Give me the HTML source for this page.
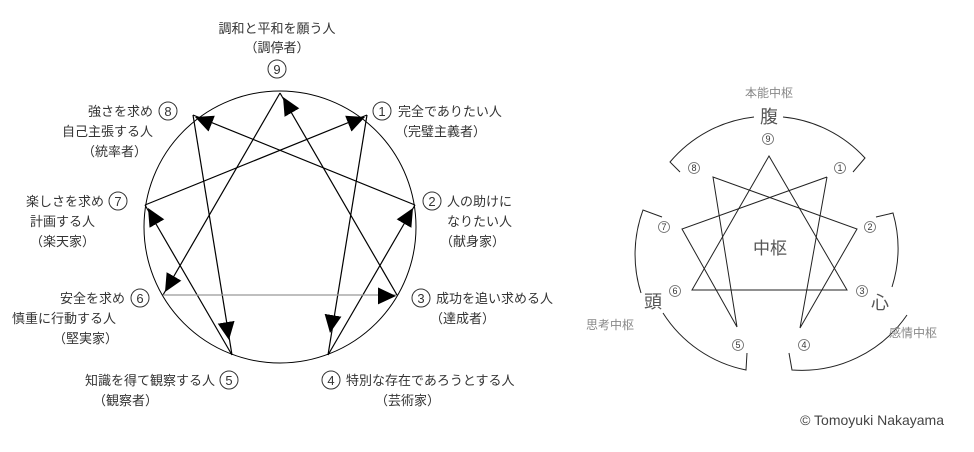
<!DOCTYPE html>
<html><head><meta charset="utf-8"><style>
html,body{margin:0;padding:0;background:#fff;}
svg{display:block;}
text{font-family:"Liberation Sans","Noto Sans CJK JP",sans-serif;fill:#333;}
.t{font-size:13px;}
.n{font-size:13px;}
.s{font-size:9px;fill:#555;}
.g{font-size:12px;fill:#888;}
.b{font-size:18px;fill:#555;}
</style></head><body>
<svg width="974" height="452" viewBox="0 0 974 452" xmlns="http://www.w3.org/2000/svg">
<defs>
<marker id="a" markerUnits="userSpaceOnUse" markerWidth="20" markerHeight="18" refX="18" refY="8.5" orient="auto">
<path d="M0,0 L18,8.5 L0,17 z" fill="#000"/>
</marker>
</defs>
<circle cx="280" cy="227" r="136" fill="none" stroke="#000" stroke-width="1"/>
<g stroke="#000" stroke-width="1.2" fill="none">
<line x1="145" y1="205" x2="367" y2="115"/>
<line x1="145" y1="205" x2="365" y2="117" marker-end="url(#a)" stroke-opacity="0"/>
<line x1="367" y1="115" x2="328" y2="355"/>
<line x1="367" y1="115" x2="330" y2="333" marker-end="url(#a)" stroke-opacity="0"/>
<line x1="328" y1="355" x2="415" y2="205"/>
<line x1="328" y1="355" x2="413" y2="208" marker-end="url(#a)" stroke-opacity="0"/>
<line x1="415" y1="205" x2="193" y2="115"/>
<line x1="415" y1="205" x2="195" y2="117" marker-end="url(#a)" stroke-opacity="0"/>
<line x1="193" y1="115" x2="232" y2="355"/>
<line x1="193" y1="115" x2="229" y2="340" marker-end="url(#a)" stroke-opacity="0"/>
<line x1="232" y1="355" x2="145" y2="205"/>
<line x1="232" y1="355" x2="148" y2="208" marker-end="url(#a)" stroke-opacity="0"/>
<line x1="280" y1="93" x2="163" y2="295"/>
<line x1="280" y1="93" x2="165" y2="292" marker-end="url(#a)" stroke-opacity="0"/>
<line x1="163" y1="295" x2="397" y2="295" stroke="#999"/>
<line x1="163" y1="295" x2="396" y2="296" marker-end="url(#a)" stroke-opacity="0"/>
<line x1="397" y1="295" x2="280" y2="93"/>
<line x1="397" y1="295" x2="283" y2="97" marker-end="url(#a)" stroke-opacity="0"/>
</g>
<g fill="none" stroke="#333" stroke-width="1">
<circle cx="277" cy="69" r="9"/><circle cx="168" cy="111" r="9"/><circle cx="382" cy="111" r="9"/>
<circle cx="118" cy="201" r="9"/><circle cx="432" cy="201" r="9"/><circle cx="140" cy="298" r="9"/>
<circle cx="421" cy="298" r="9"/><circle cx="229" cy="380" r="9"/><circle cx="331" cy="380" r="9"/>
</g>
<g class="n" text-anchor="middle">
<text x="277" y="74">9</text><text x="168" y="116">8</text><text x="382" y="116">1</text>
<text x="118" y="206">7</text><text x="432" y="206">2</text><text x="140" y="303">6</text>
<text x="421" y="303">3</text><text x="229" y="385">5</text><text x="331" y="385">4</text>
</g>
<g class="t">
<text x="277" y="33" text-anchor="middle">調和と平和を願う人</text>
<text x="277" y="52" text-anchor="middle">（調停者）</text>
<text x="153" y="116" text-anchor="end">強さを求め</text>
<text x="153" y="136" text-anchor="end">自己主張する人</text>
<text x="147" y="156" text-anchor="end">（統率者）</text>
<text x="398" y="116">完全でありたい人</text>
<text x="395" y="136">（完璧主義者）</text>
<text x="104" y="206" text-anchor="end">楽しさを求め</text>
<text x="95" y="226" text-anchor="end">計画する人</text>
<text x="95" y="246" text-anchor="end">（楽天家）</text>
<text x="447" y="206">人の助けに</text>
<text x="447" y="226">なりたい人</text>
<text x="440" y="246">（献身家）</text>
<text x="125" y="303" text-anchor="end">安全を求め</text>
<text x="116" y="323" text-anchor="end">慎重に行動する人</text>
<text x="118" y="343" text-anchor="end">（堅実家）</text>
<text x="436" y="303">成功を追い求める人</text>
<text x="430" y="323">（達成者）</text>
<text x="215" y="385" text-anchor="end">知識を得て観察する人</text>
<text x="158" y="405" text-anchor="end">（観察者）</text>
<text x="346" y="385">特別な存在であろうとする人</text>
<text x="375" y="405">（芸術家）</text>
</g>
<g stroke="#222" stroke-width="1" fill="none">
<polygon points="769,156 692,290 847,290"/>
<polyline points="827,177 800,328 857,229 713,177 737,327 682,229 827,177"/>
</g>
<g stroke="#222" stroke-width="1" fill="none">
<path d="M680,172 L670,162 A128,128 0 0 1 754,117"/>
<path d="M783,117 A128,128 0 0 1 865,158 L853,172"/>
<path d="M876,217 L893,213 A128,128 0 0 1 892,287"/>
<path d="M907,315 A128,128 0 0 1 792,370 L789,353"/>
<path d="M747,353 L746,370 A128,128 0 0 1 663,313"/>
<path d="M641,293 A128,128 0 0 1 643,210 L662,217"/>
</g>
<g fill="none" stroke="#666" stroke-width="0.8">
<circle cx="768" cy="139" r="5.5"/><circle cx="694" cy="168" r="5.5"/><circle cx="840" cy="168" r="5.5"/>
<circle cx="664" cy="227" r="5.5"/><circle cx="870" cy="227" r="5.5"/><circle cx="675" cy="291" r="5.5"/>
<circle cx="862" cy="291" r="5.5"/><circle cx="738" cy="345" r="5.5"/><circle cx="804" cy="345" r="5.5"/>
</g>
<g class="s" text-anchor="middle">
<text x="768" y="142">9</text><text x="694" y="171">8</text><text x="840" y="171">1</text>
<text x="664" y="230">7</text><text x="870" y="230">2</text><text x="675" y="294">6</text>
<text x="862" y="294">3</text><text x="738" y="348">5</text><text x="804" y="348">4</text>
</g>
<text class="g" x="769" y="97" text-anchor="middle">本能中枢</text>
<text class="b" x="769" y="123" text-anchor="middle">腹</text>
<text class="b" x="770" y="254" text-anchor="middle" style="font-size:17px">中枢</text>
<text class="b" x="653" y="308" text-anchor="middle">頭</text>
<text class="g" x="610" y="329" text-anchor="middle">思考中枢</text>
<text class="b" x="880" y="309" text-anchor="middle">心</text>
<text class="g" x="913" y="337" text-anchor="middle">感情中枢</text>
<text x="944" y="425" text-anchor="end" style="font-size:14px;fill:#444">© Tomoyuki Nakayama</text>
</svg>
</body></html>
